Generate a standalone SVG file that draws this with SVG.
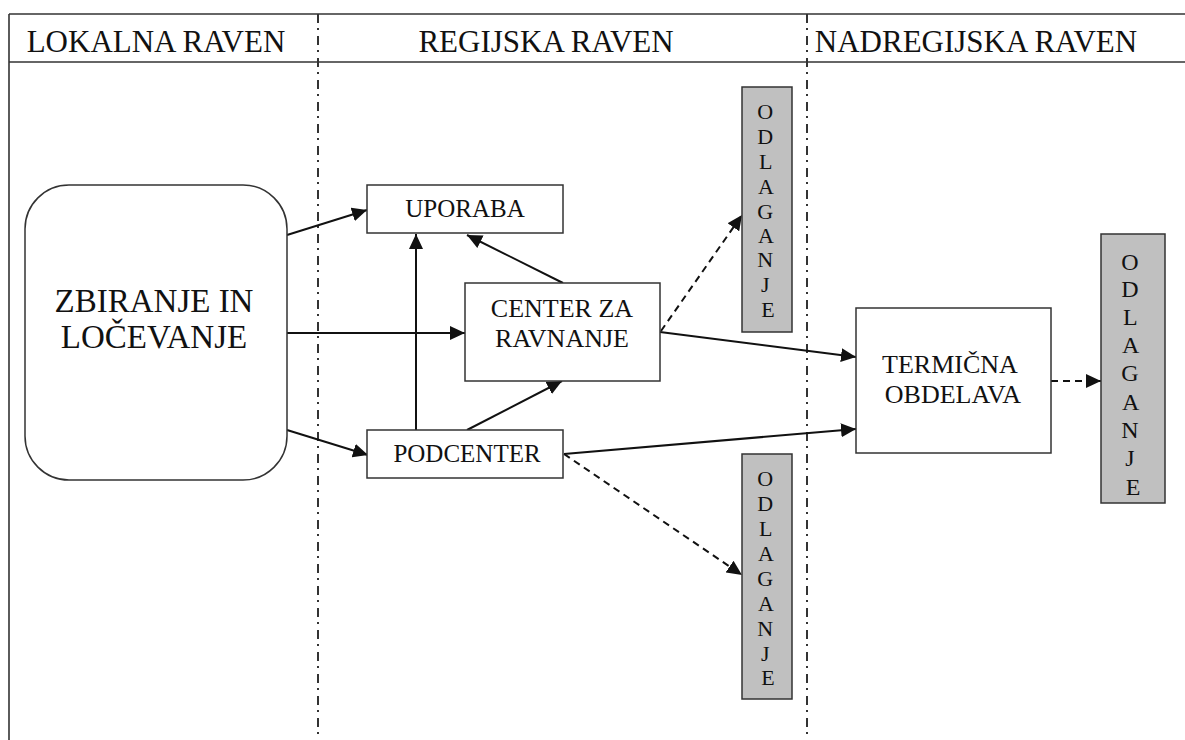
<svg xmlns="http://www.w3.org/2000/svg" width="1185" height="740" viewBox="0 0 1185 740" font-family="'Liberation Serif', 'Times New Roman', serif">
  <style>
    text { font-family: "Liberation Serif", "Times New Roman", serif; fill: #111; }
    .frame { stroke: #333; stroke-width: 1.6; fill: none; }
    .lane { stroke: #333; stroke-width: 2; stroke-dasharray: 9 5 2 6; fill: none; }
    .box { stroke: #333; stroke-width: 1.5; fill: #fff; }
    .grey { stroke: #333; stroke-width: 1.5; fill: #c0c0c0; }
    .head { font-size: 31px; }
    .big { font-size: 33px; }
    .lbl { font-size: 25px; }
    .mid { font-size: 26px; }
    .vl { font-size: 22px; }
    .vr { font-size: 24px; }
    .edge { stroke: #111; stroke-width: 2; fill: none; marker-end: url(#arrow); }
    .dash { stroke-dasharray: 7 5; }
  </style>
  <defs>
    <marker id="arrow" markerUnits="userSpaceOnUse" markerWidth="16" markerHeight="14" refX="15" refY="7" orient="auto">
      <path d="M0,0 L15,7 L0,14 z" fill="#111"/>
    </marker>
  </defs>

  <!-- outer frame and header band -->
  <g id="frame">
    <line class="frame" x1="9" y1="14" x2="9" y2="740"/>
    <line class="frame" x1="9" y1="14" x2="1185" y2="14"/>
    <line class="frame" x1="9" y1="62" x2="1185" y2="62"/>
    <line class="lane" x1="318" y1="14" x2="318" y2="740"/>
    <line class="lane" x1="807" y1="14" x2="807" y2="740"/>
    <text class="head" x="156" y="52" text-anchor="middle">LOKALNA RAVEN</text>
    <text class="head" x="546" y="52" text-anchor="middle">REGIJSKA RAVEN</text>
    <text class="head" x="976" y="52" text-anchor="middle">NADREGIJSKA RAVEN</text>
  </g>

  <!-- connectors -->
  <g id="connectors">
    <line class="edge" x1="287" y1="235" x2="367" y2="210"/>
    <line class="edge" x1="287" y1="333" x2="465" y2="333"/>
    <line class="edge" x1="287" y1="430" x2="368" y2="455"/>
    <line class="edge" x1="416" y1="430" x2="416" y2="234"/>
    <line class="edge" x1="563" y1="283" x2="467" y2="235"/>
    <line class="edge" x1="467" y1="430" x2="562" y2="381"/>
    <line class="edge" x1="660" y1="332" x2="856" y2="357"/>
    <line class="edge" x1="564" y1="454" x2="856" y2="429"/>
    <line class="edge dash" x1="661" y1="331" x2="742" y2="215"/>
    <line class="edge dash" x1="564" y1="454" x2="742" y2="575"/>
    <line class="edge dash" x1="1051" y1="381" x2="1101" y2="381"/>
  </g>

  <g id="zbiranje">
    <rect class="box" x="25" y="185" width="262" height="295" rx="44" ry="44"/>
    <text class="big" x="154" y="312" text-anchor="middle">ZBIRANJE IN</text>
    <text class="big" x="154" y="348" text-anchor="middle">LOČEVANJE</text>
  </g>

  <g id="uporaba">
    <rect class="box" x="367" y="185" width="196" height="48"/>
    <text class="lbl" x="465" y="217" text-anchor="middle">UPORABA</text>
  </g>

  <g id="center">
    <rect class="box" x="465" y="283" width="195" height="98"/>
    <text class="mid" x="562" y="317" text-anchor="middle">CENTER ZA</text>
    <text class="mid" x="562" y="347" text-anchor="middle">RAVNANJE</text>
  </g>

  <g id="podcenter">
    <rect class="box" x="367" y="430" width="196" height="48"/>
    <text class="lbl" x="467" y="462" text-anchor="middle">PODCENTER</text>
  </g>

  <g id="termicna">
    <rect class="box" x="856" y="308" width="195" height="145"/>
    <text class="mid" x="950" y="373" text-anchor="middle">TERMIČNA</text>
    <text class="mid" x="953" y="403" text-anchor="middle">OBDELAVA</text>
  </g>

  <g id="odlaganje-1">
    <rect class="grey" x="742" y="87" width="50" height="245"/>
    <text class="vl" text-anchor="middle">
      <tspan x="768" y="119">O</tspan>
      <tspan x="768" y="144">D</tspan>
      <tspan x="768" y="169">L</tspan>
      <tspan x="768" y="194">A</tspan>
      <tspan x="768" y="219">G</tspan>
      <tspan x="768" y="243">A</tspan>
      <tspan x="768" y="267">N</tspan>
      <tspan x="768" y="292">J</tspan>
      <tspan x="768" y="317">E</tspan>
    </text>
  </g>

  <g id="odlaganje-2">
    <rect class="grey" x="1101" y="234" width="64" height="269"/>
    <text class="vr" text-anchor="middle">
      <tspan x="1133" y="270">O</tspan>
      <tspan x="1133" y="297">D</tspan>
      <tspan x="1133" y="325">L</tspan>
      <tspan x="1133" y="353">A</tspan>
      <tspan x="1133" y="381">G</tspan>
      <tspan x="1133" y="410">A</tspan>
      <tspan x="1133" y="438">N</tspan>
      <tspan x="1133" y="466">J</tspan>
      <tspan x="1133" y="495">E</tspan>
    </text>
  </g>

  <g id="odlaganje-3">
    <rect class="grey" x="742" y="454" width="50" height="245"/>
    <text class="vl" text-anchor="middle">
      <tspan x="768" y="486">O</tspan>
      <tspan x="768" y="511">D</tspan>
      <tspan x="768" y="536">L</tspan>
      <tspan x="768" y="561">A</tspan>
      <tspan x="768" y="586">G</tspan>
      <tspan x="768" y="611">A</tspan>
      <tspan x="768" y="636">N</tspan>
      <tspan x="768" y="661">J</tspan>
      <tspan x="768" y="685">E</tspan>
    </text>
  </g>
</svg>
